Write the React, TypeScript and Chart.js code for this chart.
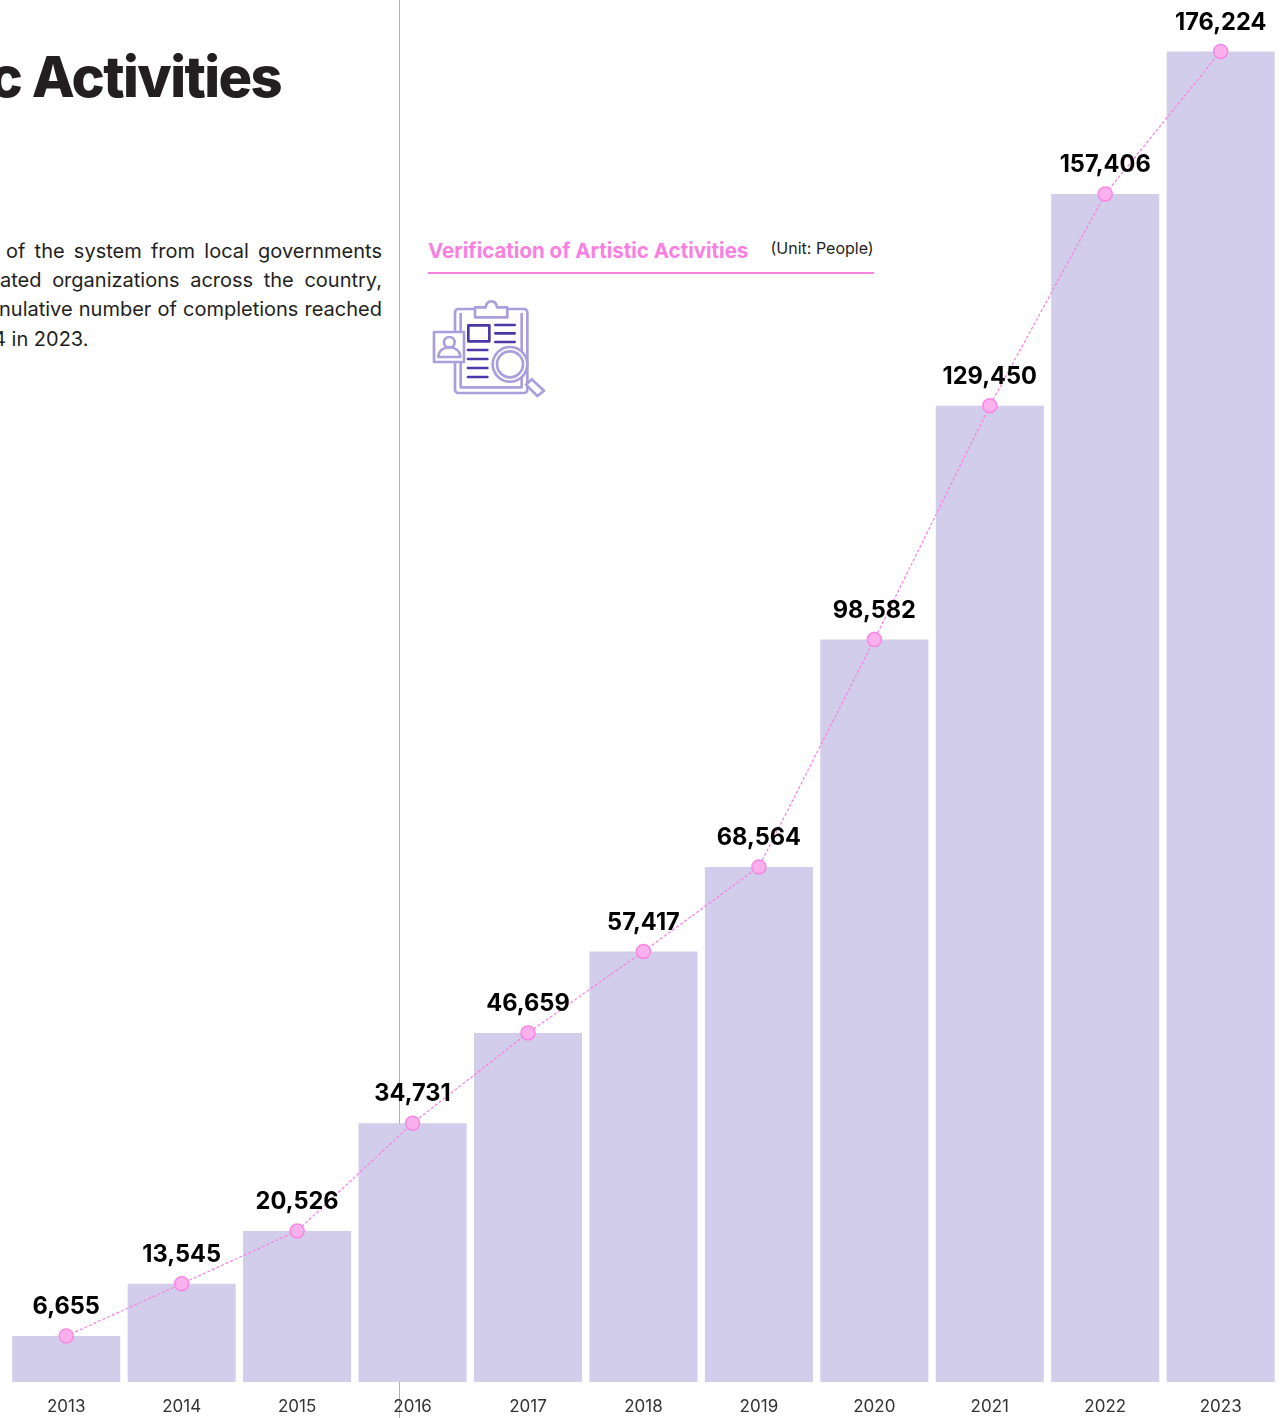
import React, { useEffect, useRef } from "react";
import { Chart, registerables } from "chart.js";

Chart.register(...registerables);

const years = ["2013", "2014", "2015", "2016", "2017", "2018", "2019", "2020", "2021", "2022", "2023"];
const completions = [6655, 13545, 20526, 34731, 46659, 57417, 68564, 98582, 129450, 157406, 176224];
const FONT = "Inter, 'Noto Sans', sans-serif";

const valueLabels = {
  id: "valueLabels",
  afterDatasetsDraw(chart: any) {
    const meta = chart.getDatasetMeta(1);
    const ctx = chart.ctx;
    ctx.save();
    ctx.font = `700 23.6px ${FONT}`;
    ctx.fillStyle = "#000";
    ctx.textAlign = "center";
    ctx.textBaseline = "middle";
    meta.data.forEach((pt: any, i: number) => {
      ctx.fillText(completions[i].toLocaleString("en-US"), pt.x, pt.y - 29);
    });
    ctx.restore();
  },
};

const paragraph = [
  { text: "of the system from local governments", left: 6, width: 376, y: 237, justify: true },
  { text: "ated organizations across the country,", left: 0, width: 382, y: 266, justify: true },
  { text: "nulative number of completions reached", left: -1, width: 383, y: 295, justify: true },
  { text: "4 in 2023.", left: -7, width: 120, y: 325, justify: false },
];

function Icon() {
  const light = "#a99fdc";
  const dark = "#4b37a8";
  return (
    <svg
      viewBox="0 0 1410 540"
      width={470}
      height={180}
      style={{ position: "absolute", left: 420, top: 230 }}
      fill="none"
      stroke={light}
      strokeWidth={8}
      strokeLinejoin="round"
      strokeLinecap="round"
    >
      <rect x={105} y={237} width={217} height={252} rx={10} />
      <path d="M122 252V472H305V252" />
      <path d="M165 262V232H197C200 208 228 208 231 232H262V262Z" fill="#fff" />
      <rect x={42} y={306} width={90} height={90} fill="#fff" />
      <circle cx={88} cy={337} r={16} />
      <path d="M55 381C55 342 121 342 121 381Z" />
      <g stroke={dark}>
        <rect x={145} y={286} width={63} height={48} />
        <path d="M226 285H284M226 310H284M226 336H284M144 360H202M144 387H202M144 414H202M144 441H202" />
      </g>
      <path d="M335 448L372 482L352 498L318 464Z" fill="#fff" />
      <circle cx={270} cy={403} r={52} fill="#fff" />
      <circle cx={270} cy={403} r={39} />
    </svg>
  );
}

export default function App() {
  const ref = useRef<HTMLCanvasElement>(null);

  useEffect(() => {
    const chart = new Chart(ref.current!, {
      type: "bar",
      data: {
        labels: years,
        datasets: [
          {
            type: "line",
            label: "Trend",
            data: completions,
            borderColor: "#f77fe0",
            borderWidth: 1.2,
            borderDash: [3, 2],
            pointRadius: 7,
            pointBackgroundColor: "#fbb0ee",
            pointBorderColor: "#f986e4",
            pointBorderWidth: 1.5,
            tension: 0,
            order: 0,
          },
          {
            type: "bar",
            label: "Completions",
            data: completions,
            backgroundColor: "#d2cdea",
            barPercentage: 0.936,
            categoryPercentage: 1,
            order: 1,
          },
        ] as any,
      },
      options: {
        responsive: false,
        animation: false,
        layout: { padding: { left: 8, right: 9.6, top: 0, bottom: 0 } },
        plugins: { legend: { display: false }, tooltip: { enabled: false } },
        scales: {
          x: {
            grid: { display: false },
            border: { display: false },
            ticks: { color: "#333", font: { family: FONT, size: 17 }, padding: 7, maxRotation: 0, autoSkip: false },
            afterFit(scale: any) {
              scale.height = 36;
            },
          },
          y: { display: false, min: 580, max: 181890 },
        },
      },
      plugins: [valueLabels],
    });
    return () => chart.destroy();
  }, []);

  return (
    <div style={{ position: "fixed", left: 0, top: 0, width: 1288, height: 1418, overflow: "hidden", background: "#fff", fontFamily: FONT }}>
      <div style={{ position: "absolute", left: 398.5, top: 0, width: 1.5, height: 1418, background: "#b0b0b0" }} />
      <div style={{ position: "absolute", right: 1288 - 281, top: 42, fontSize: 56, fontWeight: 760, lineHeight: "70px", letterSpacing: -1.6, color: "#231f20", whiteSpace: "nowrap" }}>
        c Activities
      </div>
      {paragraph.map((l) => (
        <div
          key={l.y}
          style={{
            position: "absolute",
            left: l.left,
            top: l.y,
            width: l.width,
            fontSize: 20,
            lineHeight: "28px",
            color: "#231f20",
            textAlign: l.justify ? "justify" : "left",
            textAlignLast: l.justify ? "justify" : "left",
          }}
        >
          {l.text}
        </div>
      ))}
      <div style={{ position: "absolute", left: 428, top: 237, fontSize: 20.5, fontWeight: 700, lineHeight: "28px", color: "#f97fe0", whiteSpace: "nowrap" }}>
        Verification of Artistic Activities
      </div>
      <div style={{ position: "absolute", left: 770.5, top: 237, fontSize: 16, lineHeight: "22px", color: "#231f20", whiteSpace: "nowrap" }}>
        (Unit: People)
      </div>
      <div style={{ position: "absolute", left: 428, top: 272, width: 446, height: 2, background: "#f582e0" }} />
      <Icon />
      <canvas ref={ref} width={1288} height={1418} style={{ position: "absolute", left: 0, top: 0, display: "block" }} />
    </div>
  );
}
